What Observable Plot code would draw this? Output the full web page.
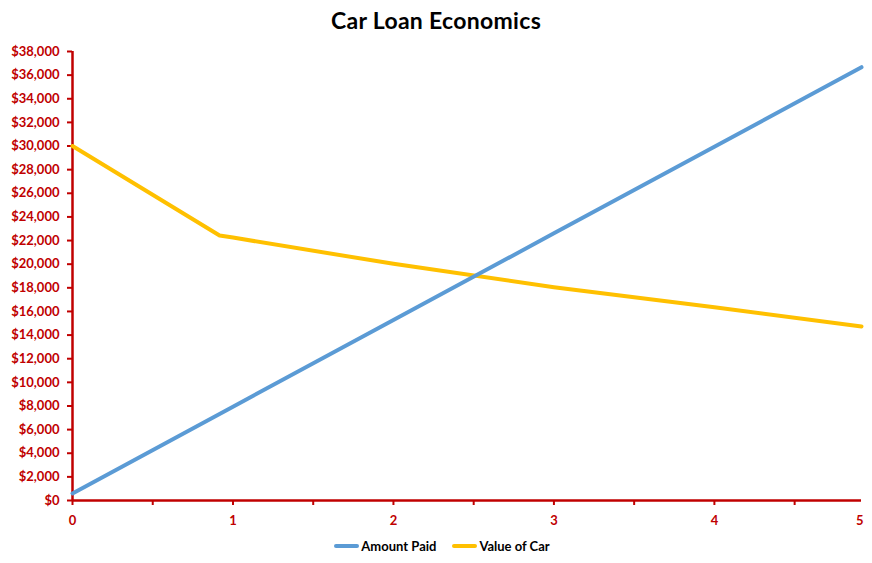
<!DOCTYPE html>
<html>
<head>
<meta charset="utf-8">
<script src="https://cdn.jsdelivr.net/npm/d3@7"></script>
<script src="https://cdn.jsdelivr.net/npm/@observablehq/plot@0.6"></script>
<style>
  body { margin: 0; background: #fff; font-family: Lato, "Open Sans", sans-serif; }
  #title { height: 40px; line-height: 40px; text-align: center; font-weight: bold; font-size: 23px; color: #000; letter-spacing: 0.3px; }
  #legend { display: flex; justify-content: center; align-items: center; font-weight: bold; font-size: 13px; color: #000; margin-top: 8px; padding-left: 12px; }
  .item { display: flex; align-items: center; margin: 0 8px; }
  .swatch { width: 25px; height: 4px; border-radius: 2px; margin-right: 2px; }
</style>
</head>
<body>
<div id="title">Car Loan Economics</div>
<div id="chart"></div>
<div id="legend"></div>
<script>
// x in years (last point is month 59)
const paidYears = [0, 1, 2, 3, 4, 59 / 12];
const amountPaid = [600, 7940, 15270, 22610, 29940, 36670];
const carYears = [0, 11 / 12, 1, 2, 3, 4, 59 / 12];
const carValue = [30000, 22430, 22250, 20030, 18050, 16360, 14725];
const seriesNames = ["Amount Paid", "Value of Car"];
const seriesColors = ["#5B9BD5", "#FFC000"];
const yTicks = d3.range(0, 38001, 2000);
const xTickPos = [0, 1, 2, 3, 4, 59 / 12];
const xTickLabels = ["0", "1", "2", "3", "4", "5"];
const xMinor = [0.5, 1.5, 2.5, 3.5, 4.5];

const paid = paidYears.map((x, i) => ({x, y: amountPaid[i], s: seriesNames[0]}));
const car = carYears.map((x, i) => ({x, y: carValue[i], s: seriesNames[1]}));
const red = "#C00000";

const chart = Plot.plot({
  width: 872,
  height: 490,
  marginLeft: 72,
  marginRight: 11,
  marginTop: 11,
  marginBottom: 30,
  style: {fontFamily: "Lato, 'Open Sans', sans-serif", fontWeight: "bold", fontSize: "13px", background: "#fff"},
  x: {domain: [0, 59 / 12]},
  y: {domain: [0, 38000]},
  marks: [
    Plot.axisY({ticks: yTicks, tickSize: 5, tickPadding: 8, stroke: red, strokeWidth: 2, fill: red,
      tickFormat: d => "$" + d3.format(",")(d), label: null, fontWeight: "bold", fontSize: 13}),
    Plot.axisX({ticks: xTickPos.slice(0, 5), tickSize: 5, tickPadding: 10, stroke: red, strokeWidth: 2, fill: red,
      tickFormat: d => xTickLabels[xTickPos.indexOf(d)], label: null, fontWeight: "bold", fontSize: 13}),
    Plot.axisX({ticks: xTickPos.slice(5), tickSize: 0, tickPadding: 15, fill: red,
      tickFormat: d => xTickLabels[xTickPos.indexOf(d)], textAnchor: "end", dx: 2, label: null, fontWeight: "bold", fontSize: 13}),
    Plot.axisX({ticks: xMinor, tickSize: 5, stroke: red, strokeWidth: 2, tickFormat: () => "", label: null}),
    Plot.ruleX([0], {stroke: red, strokeWidth: 2.5}),
    Plot.ruleY([0], {stroke: red, strokeWidth: 2.5}),
    Plot.line(car, {x: "x", y: "y", stroke: seriesColors[1], strokeWidth: 4}),
    Plot.line(paid, {x: "x", y: "y", stroke: seriesColors[0], strokeWidth: 4})
  ]
});
document.getElementById("chart").appendChild(chart);

const legend = document.getElementById("legend");
seriesNames.forEach((n, i) => {
  const it = document.createElement("div");
  it.className = "item";
  it.innerHTML = `<span class="swatch" style="background:${seriesColors[i]}"></span><span>${n}</span>`;
  legend.appendChild(it);
});
</script>
</body>
</html>
